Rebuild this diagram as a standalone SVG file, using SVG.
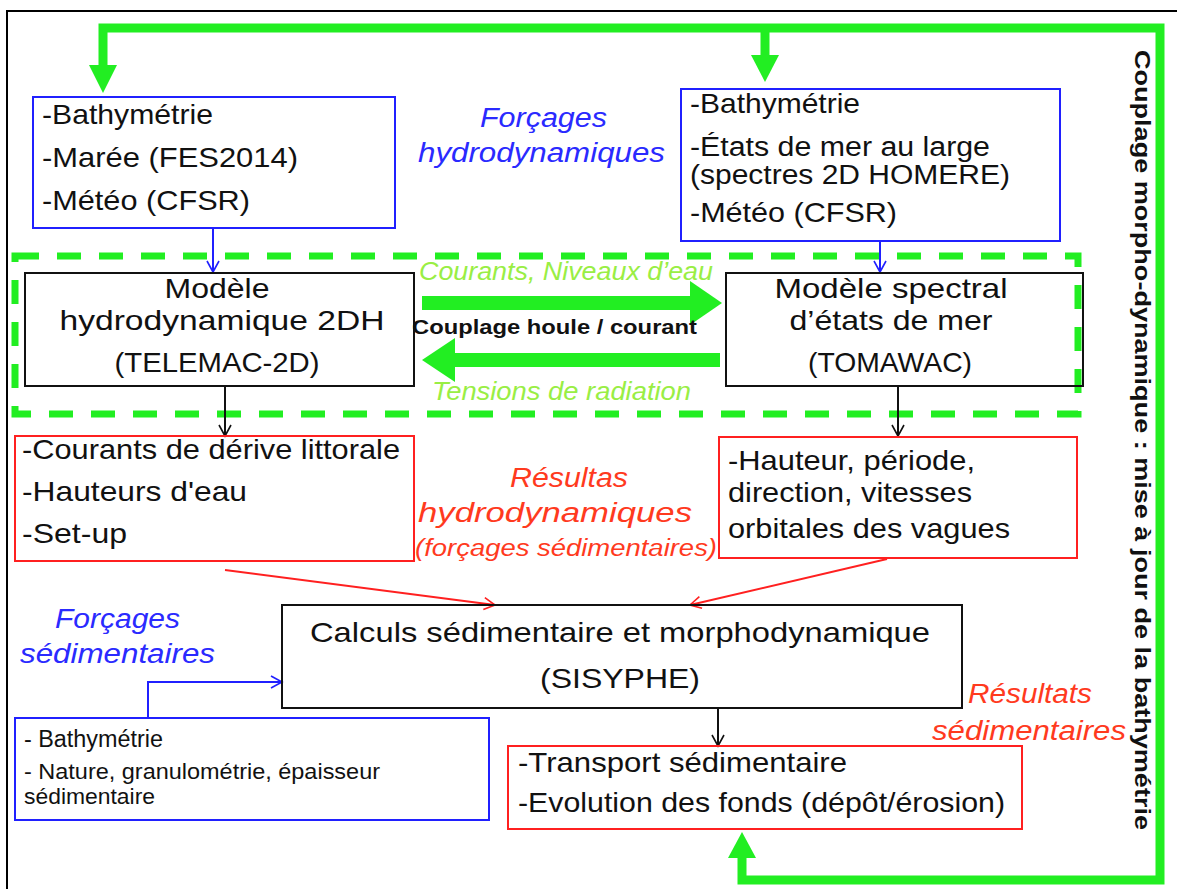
<svg xmlns="http://www.w3.org/2000/svg" width="1177" height="889" viewBox="0 0 1177 889">
<defs>
<style>
text{font-family:"Liberation Sans",Arial,sans-serif;}
.t{font-size:28px;fill:#111;}
.c{font-size:28px;fill:#111;text-anchor:middle;}
.bl{fill:none;stroke:#2020ff;stroke-width:2;}
.rd{fill:none;stroke:#ff2020;stroke-width:2;}
.bk{fill:none;stroke:#111;stroke-width:2;}
.ib{font-size:27px;font-style:italic;fill:#2a2aff;}
.ir{font-size:27px;font-style:italic;fill:#ff3a1e;}
.ig{font-size:25px;font-style:italic;fill:#99ee44;}
</style>
<marker id="ab" markerWidth="14" markerHeight="14" refX="12" refY="7" orient="auto" markerUnits="userSpaceOnUse"><path d="M1,1 L12,7 L1,13" fill="none" stroke="#2020ff" stroke-width="1.6"/></marker>
<marker id="ak" markerWidth="14" markerHeight="14" refX="12" refY="7" orient="auto" markerUnits="userSpaceOnUse"><path d="M1,1 L12,7 L1,13" fill="none" stroke="#111" stroke-width="1.6"/></marker>
<marker id="ar" markerWidth="14" markerHeight="14" refX="12" refY="7" orient="auto" markerUnits="userSpaceOnUse"><path d="M1,1 L12,7 L1,13" fill="none" stroke="#ff2020" stroke-width="1.6"/></marker>
</defs>
<rect width="1177" height="889" fill="#fff"/>
<path d="M7,889 V11 H1177" fill="none" stroke="#000" stroke-width="2"/>
<g id="connectors">
<path d="M103,65 V28 H1160 V880 H742 V858" fill="none" stroke="#22ee22" stroke-width="9"/>
<path d="M765,28 V56" fill="none" stroke="#22ee22" stroke-width="9"/>
<polygon points="89,65 117,65 103,93" fill="#22ee22"/>
<polygon points="751,55 779,55 765,82" fill="#22ee22"/>
<polygon points="728,858 756,858 742,832" fill="#22ee22"/>
<rect x="15" y="256" width="1063" height="158" fill="none" stroke="#22ee22" stroke-width="7" stroke-dasharray="24,18"/>
<path d="M422,303 H692" stroke="#22ee22" stroke-width="14"/>
<polygon points="690,281 722,303 690,325" fill="#22ee22"/>
<path d="M720,360 H452" stroke="#22ee22" stroke-width="14"/>
<polygon points="455,338 422,360 455,382" fill="#22ee22"/>
<path d="M213,228 V272" class="bl" marker-end="url(#ab)"/>
<path d="M880,241 V272" class="bl" marker-end="url(#ab)"/>
<path d="M225,386 V436" class="bk" marker-end="url(#ak)"/>
<path d="M898,386 V436" class="bk" marker-end="url(#ak)"/>
<path d="M225,570 L495,605" class="rd" marker-end="url(#ar)"/>
<path d="M887,559 L690,605" class="rd" marker-end="url(#ar)"/>
<path d="M148,718 V682 H282" class="bl" marker-end="url(#ab)"/>
<path d="M718,708 V746" class="bk" marker-end="url(#ak)"/>
</g>
<g id="boxA">
<rect x="33" y="97" width="362" height="131" class="bl"/>
<text class="t" x="42" y="124" textLength="171" lengthAdjust="spacingAndGlyphs">-Bathymétrie</text>
<text class="t" x="42" y="167" textLength="256" lengthAdjust="spacingAndGlyphs">-Marée (FES2014)</text>
<text class="t" x="42" y="210" textLength="208" lengthAdjust="spacingAndGlyphs">-Météo (CFSR)</text>
</g>
<g id="lblForcHydro">
<text class="ib" x="480" y="127" textLength="127" lengthAdjust="spacingAndGlyphs">Forçages</text>
<text class="ib" x="418" y="162" textLength="247" lengthAdjust="spacingAndGlyphs">hydrodynamiques</text>
</g>
<g id="boxB">
<rect x="681" y="89" width="379" height="152" class="bl"/>
<text class="t" x="690" y="113" textLength="170" lengthAdjust="spacingAndGlyphs">-Bathymétrie</text>
<text class="t" x="690" y="156" textLength="300" lengthAdjust="spacingAndGlyphs" style="font-size:27px">-États de mer au large</text>
<text class="t" x="690" y="184" textLength="320" lengthAdjust="spacingAndGlyphs" style="font-size:27px">(spectres 2D HOMERE)</text>
<text class="t" x="690" y="222" textLength="207" lengthAdjust="spacingAndGlyphs">-Météo (CFSR)</text>
</g>
<g id="boxC">
<rect x="25" y="273" width="389" height="113" class="bk" fill="#fff"/>
<text class="c" x="217" y="298" textLength="105" lengthAdjust="spacingAndGlyphs">Modèle</text>
<text class="c" x="222" y="330" textLength="325" lengthAdjust="spacingAndGlyphs">hydrodynamique  2DH</text>
<text class="c" x="217" y="372" textLength="205" lengthAdjust="spacingAndGlyphs">(TELEMAC-2D)</text>
</g>
<g id="boxD">
<rect x="726" y="273" width="357" height="113" class="bk" fill="#fff"/>
<text class="c" x="891" y="298" textLength="233" lengthAdjust="spacingAndGlyphs">Modèle spectral</text>
<text class="c" x="891" y="330" textLength="203" lengthAdjust="spacingAndGlyphs">d’états de mer</text>
<text class="c" x="890" y="372" textLength="164" lengthAdjust="spacingAndGlyphs">(TOMAWAC)</text>
</g>
<g id="lblCouplage">
<text class="ig" x="419" y="280" textLength="294" lengthAdjust="spacingAndGlyphs">Courants, Niveaux d’eau</text>
<text x="412" y="334" textLength="285" lengthAdjust="spacingAndGlyphs" style="font-size:20px;font-weight:bold;fill:#111">Couplage houle / courant</text>
<text class="ig" x="432" y="400" textLength="259" lengthAdjust="spacingAndGlyphs">Tensions de radiation</text>
</g>
<g id="boxE">
<rect x="15" y="436" width="399" height="125" class="rd"/>
<text class="t" x="22" y="459" textLength="378" lengthAdjust="spacingAndGlyphs">-Courants de dérive littorale</text>
<text class="t" x="22" y="501" textLength="225" lengthAdjust="spacingAndGlyphs">-Hauteurs d'eau</text>
<text class="t" x="22" y="543" textLength="105" lengthAdjust="spacingAndGlyphs">-Set-up</text>
</g>
<g id="lblResHydro">
<text class="ir" x="510" y="487" textLength="118" lengthAdjust="spacingAndGlyphs">Résultas</text>
<text class="ir" x="418" y="522" textLength="274" lengthAdjust="spacingAndGlyphs">hydrodynamiques</text>
<text class="ir" x="415" y="556" textLength="302" lengthAdjust="spacingAndGlyphs" style="font-size:23px">(forçages sédimentaires)</text>
</g>
<g id="boxF">
<rect x="719" y="437" width="358" height="121" class="rd"/>
<text class="t" x="728" y="470" textLength="247" lengthAdjust="spacingAndGlyphs">-Hauteur, période,</text>
<text class="t" x="728" y="502" textLength="244" lengthAdjust="spacingAndGlyphs">direction, vitesses</text>
<text class="t" x="728" y="538" textLength="282" lengthAdjust="spacingAndGlyphs">orbitales des vagues</text>
</g>
<g id="boxG">
<rect x="282" y="605" width="680" height="103" class="bk"/>
<text class="c" x="620" y="642" textLength="620" lengthAdjust="spacingAndGlyphs">Calculs  sédimentaire  et morphodynamique</text>
<text class="c" x="620" y="688" textLength="160" lengthAdjust="spacingAndGlyphs">(SISYPHE)</text>
</g>
<g id="lblForcSed">
<text class="ib" x="55" y="628" textLength="125" lengthAdjust="spacingAndGlyphs">Forçages</text>
<text class="ib" x="20" y="663" textLength="195" lengthAdjust="spacingAndGlyphs">sédimentaires</text>
</g>
<g id="boxH">
<rect x="15" y="718" width="474" height="102" class="bl"/>
<text class="t" x="24" y="747" textLength="139" lengthAdjust="spacingAndGlyphs" style="font-size:23px">- Bathymétrie</text>
<text class="t" x="24" y="779" textLength="356" lengthAdjust="spacingAndGlyphs" style="font-size:22px">- Nature, granulométrie, épaisseur</text>
<text class="t" x="24" y="804" textLength="131" lengthAdjust="spacingAndGlyphs" style="font-size:22px">sédimentaire</text>
</g>
<g id="lblResSed">
<text class="ir" x="968" y="703" textLength="124" lengthAdjust="spacingAndGlyphs">Résultats</text>
<text class="ir" x="932" y="740" textLength="194" lengthAdjust="spacingAndGlyphs">sédimentaires</text>
</g>
<g id="boxI">
<rect x="508" y="746" width="514" height="83" class="rd"/>
<text class="t" x="518" y="772" textLength="329" lengthAdjust="spacingAndGlyphs">-Transport sédimentaire</text>
<text class="t" x="518" y="812" textLength="487" lengthAdjust="spacingAndGlyphs">-Evolution des fonds (dépôt/érosion)</text>
</g>
<g id="lblVertical">
<text transform="translate(1143,440) rotate(90)" text-anchor="middle" y="8" textLength="780" lengthAdjust="spacingAndGlyphs" style="font-size:22px;font-weight:bold;fill:#111">Couplage morpho-dynamique : mise à jour de la bathymétrie</text>
</g>
</svg>
